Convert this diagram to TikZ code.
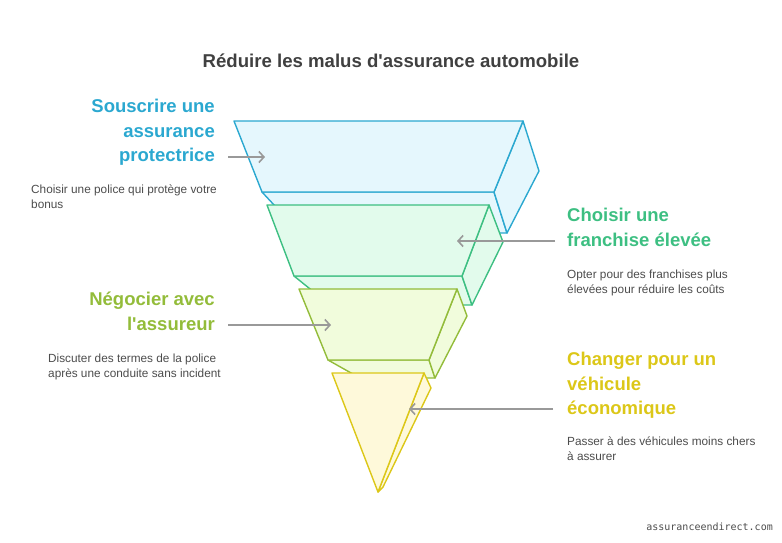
\documentclass[tikz,border=0pt]{standalone}
\usepackage{fontspec}
\setmainfont{Liberation Sans}
\setmonofont{DejaVu Sans Mono}
\begin{document}
\begin{tikzpicture}[x=1pt,y=-1pt,
  arr/.style={draw=gray!80,line width=1.6pt,-{Straight Barb[length=5pt,width=11pt]}},
  head/.style={inner sep=0},
  desc/.style={font=\fontsize{11.8}{15}\selectfont,text=black!70,inner sep=0,align=left,anchor=north west},
  lay/.style={line width=1.4pt,line join=round}]
\usetikzlibrary{arrows.meta}
\definecolor{cB}{HTML}{2BA8D0}\definecolor{fB}{HTML}{E5F7FD}
\definecolor{cG}{HTML}{3DBF82}\definecolor{fG}{HTML}{E2FBEC}
\definecolor{cL}{HTML}{93BC3A}\definecolor{fL}{HTML}{F1FCDC}
\definecolor{cY}{HTML}{DCC718}\definecolor{fY}{HTML}{FEF9DA}
\path[use as bounding box] (0,0) rectangle (782,542);
% blue
\draw[lay,draw=cB,fill=fB] (262,192)--(494,192)--(507,233)--(500,233)--(300,233)--cycle;
\draw[lay,draw=cB,fill=fB] (494,192)--(523,121)--(539,171)--(507,233)--cycle;
\draw[lay,draw=cB,fill=fB] (234,121)--(523,121)--(494,192)--(262,192)--cycle;
% green
\draw[lay,draw=cG,fill=fG] (294,276)--(462,276)--(472,305)--(330,305)--cycle;
\draw[lay,draw=cG,fill=fG] (462,276)--(489,205)--(503,242)--(472,305)--cycle;
\draw[lay,draw=cG,fill=fG] (267,205)--(489,205)--(462,276)--(294,276)--cycle;
% lime
\draw[lay,draw=cL,fill=fL] (328,360)--(429,360)--(435,378)--(360,378)--cycle;
\draw[lay,draw=cL,fill=fL] (429,360)--(457,289)--(467,316)--(435,378)--cycle;
\draw[lay,draw=cL,fill=fL] (299,289)--(457,289)--(429,360)--(328,360)--cycle;
% yellow
\draw[lay,draw=cY,fill=fY] (378,492)--(424,373)--(431,388)--(383,487)--cycle;
\draw[lay,draw=cY,fill=fY] (332,373)--(424,373)--(378,492)--cycle;
% arrows
\coordinate (a1) at (228,157); \coordinate (b1) at (265,157);
\coordinate (a2) at (555,241); \coordinate (b2) at (457,241);
\coordinate (a3) at (228,325); \coordinate (b3) at (331,325);
\coordinate (a4) at (553,409); \coordinate (b4) at (409,409);
\draw[arr] (a1)--(b1); \draw[arr] (a2)--(b2); \draw[arr] (a3)--(b3); \draw[arr] (a4)--(b4);
% title
\node[font=\fontsize{18.6}{22}\selectfont\bfseries,text=black!75] (t) at (391,61) {Réduire les malus d\textquotesingle assurance automobile};
% texts
\node[head,text=cB,align=right,anchor=north east,font=\fontsize{18.5}{24.5}\selectfont\bfseries] (h1) at (215,99) {Souscrire une\\assurance\\protectrice};
\node[desc] (d1) at (31,185) {Choisir une police qui protège votre\\bonus};
\node[head,text=cG,align=left,anchor=north west,font=\fontsize{18.5}{24.5}\selectfont\bfseries] (h2) at (567,208) {Choisir une\\franchise élevée};
\node[desc] (d2) at (567,270) {Opter pour des franchises plus\\élevées pour réduire les coûts};
\node[head,text=cL,align=right,anchor=north east,font=\fontsize{18.5}{24.5}\selectfont\bfseries] (h3) at (215,292) {Négocier avec\\l\textquotesingle assureur};
\node[desc] (d3) at (48,354) {Discuter des termes de la police\\après une conduite sans incident};
\node[head,text=cY,align=left,anchor=north west,font=\fontsize{18.5}{24.5}\selectfont\bfseries] (h4) at (567,352) {Changer pour un\\véhicule\\économique};
\node[desc] (d4) at (567,437) {Passer à des véhicules moins chers\\à assurer};
\node[font=\ttfamily\fontsize{10}{12}\selectfont,text=black!70,anchor=east,inner sep=0] (w) at (773,527) {assuranceendirect.com};
\end{tikzpicture}
\end{document}
